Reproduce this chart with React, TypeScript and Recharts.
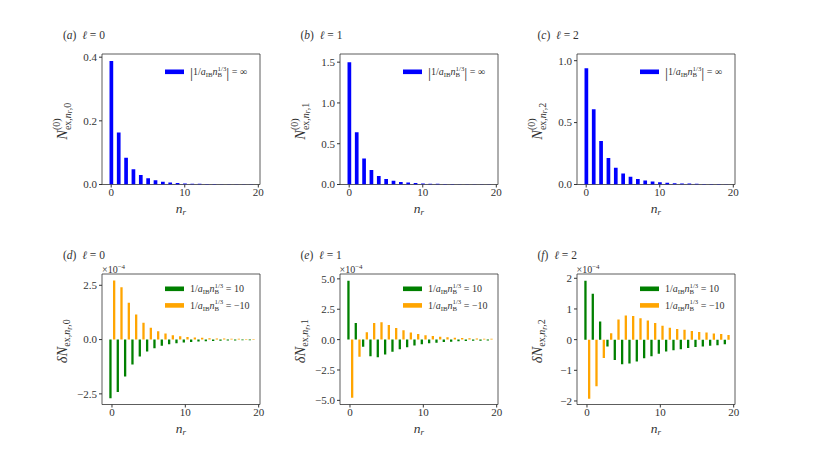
import React from "react";
import { BarChart, Bar, XAxis, YAxis, ReferenceArea, Legend } from "recharts";

// radial quantum number n_r
const nr = [0, 1, 2, 3, 4, 5, 6, 7, 8, 9, 10, 11, 12, 13, 14, 15, 16, 17, 18, 19];
const xTicks = [0, 10, 20];

// N^(0)_{ex,n_r,l} for |1/a_IB n_B^{1/3}| = inf
const nex0L0 = [0.388, 0.163, 0.084, 0.048, 0.03, 0.02, 0.013, 0.0088, 0.0062, 0.0045, 0.0034, 0.0026, 0.002, 0.0016, 0.0013, 0.001, 0.0008, 0.0007, 0.0005, 0.0004];
const nex0L1 = [1.5, 0.642, 0.319, 0.178, 0.105, 0.068, 0.046, 0.032, 0.023, 0.017, 0.013, 0.01, 0.008, 0.0065, 0.0052, 0.0042, 0.0035, 0.0029, 0.0024, 0.002];
const nex0L2 = [0.938, 0.608, 0.351, 0.214, 0.135, 0.089, 0.062, 0.044, 0.032, 0.024, 0.018, 0.014, 0.011, 0.009, 0.0072, 0.006, 0.005, 0.0042, 0.0035, 0.003];

// delta N_{ex,n_r,l} in units of 1e-4, for 1/a_IB n_B^{1/3} = 10 and = -10
const dL0Pos = [-2.7, -2.42, -1.7, -1.15, -0.78, -0.55, -0.4, -0.29, -0.21, -0.17, -0.14, -0.11, -0.09, -0.075, -0.062, -0.052, -0.044, -0.037, -0.032, -0.027];
const dL0Neg = [2.72, 2.41, 1.7, 1.15, 0.78, 0.54, 0.38, 0.28, 0.2, 0.15, 0.12, 0.1, 0.08, 0.065, 0.055, 0.046, 0.039, 0.033, 0.028, 0.024];
const dL1Pos = [4.85, 1.37, -0.58, -1.37, -1.45, -1.23, -0.99, -0.79, -0.63, -0.49, -0.38, -0.3, -0.25, -0.2, -0.17, -0.14, -0.12, -0.1, -0.09, -0.07];
const dL1Neg = [-4.79, -1.4, 0.6, 1.37, 1.42, 1.2, 0.96, 0.77, 0.58, 0.47, 0.36, 0.29, 0.24, 0.19, 0.16, 0.13, 0.11, 0.09, 0.08, 0.07];
const dL2Pos = [1.92, 1.5, 0.59, -0.22, -0.66, -0.8, -0.78, -0.71, -0.61, -0.54, -0.46, -0.39, -0.35, -0.31, -0.27, -0.24, -0.22, -0.2, -0.18, -0.15];
const dL2Neg = [-1.93, -1.52, -0.6, 0.21, 0.66, 0.79, 0.77, 0.7, 0.62, 0.54, 0.45, 0.39, 0.35, 0.32, 0.28, 0.25, 0.23, 0.2, 0.18, 0.15];

const yTicksA = [0, 0.2, 0.4];
const yTicksB = [0, 0.5, 1, 1.5];
const yTicksC = [0, 0.5, 1];
const yTicksD = [-2.5, 0, 2.5];
const yTicksE = [-5, -2.5, 0, 2.5, 5];
const yTicksF = [-2, -1, 0, 1, 2];

const INK = "#333";
const FONT = "'Liberation Serif', 'DejaVu Serif', serif";
const BLUE = "#0000ff";
const GREEN = "#008000";
const ORANGE = "#ffa500";

// plot box geometry inside each small chart
const PW = 158;
const PH = 130.5;
const ML = 62;
const MT = 40;
const CW = 240;
const CH = 212;
const YW = 40;
const XH = 24;

type Series = { key: string; name: string; color: string; values: number[] };

type Piece = { t: string; size?: number; it?: boolean; dx?: number; dy?: number };

const Tex = ({ pieces, ...rest }: { pieces: Piece[]; [k: string]: any }) => (
  <text fill={INK} fontFamily={FONT} style={{ whiteSpace: "pre" }} {...rest}>
    {pieces.map((p, i) => (
      <tspan
        key={i}
        fontSize={p.size}
        fontStyle={p.it ? "italic" : "normal"}
        dx={p.dx}
        dy={p.dy}
      >
        {p.t}
      </tspan>
    ))}
  </text>
);

const legendPieces = (v: string, abs: boolean): Piece[] => [
  ...(abs ? [{ t: "|", size: 15, dy: 2.8 }] : []),
  { t: "1/", size: 10, dy: abs ? -2.8 : 0 },
  { t: "a", size: 10, it: true },
  { t: "IB", size: 6.8, dy: 2 },
  { t: "n", size: 10, it: true, dy: -2 },
  { t: "1/3", size: 6.8, dy: -4.5 },
  { t: "B", size: 6.8, dx: -8.7, dy: 6.5 },
  ...(abs
    ? [
        { t: "|", size: 15, dx: 4.2, dy: 0.8 },
        { t: " = " + v, size: 10, dy: -2.8 },
      ]
    : [{ t: " = " + v, size: 10, dx: 4.2, dy: -2 }]),
];

const LegendBox = ({ payload, abs }: { payload?: any[]; abs: boolean }) => (
  <svg width={110} height={42}>
    {(payload || []).map((p, i) => (
      <g key={i} transform={`translate(0, ${i * 16.6})`}>
        <rect x={0} y={4.5} width={19} height={4.6} fill={p.color} />
        <Tex x={25} y={10.2} pieces={legendPieces(String(p.value), abs)} />
      </g>
    ))}
  </svg>
);

const yLabelPieces = (ell: number, delta: boolean): Piece[] =>
  delta
    ? [
        { t: "δN", size: 14.5, it: true },
        { t: "ex,", size: 10, dy: 3.5 },
        { t: "n", size: 10, it: true },
        { t: "r", size: 7.5, it: true, dy: 1.8 },
        { t: "," + ell, size: 10, dy: -1.8 },
      ]
    : [
        { t: "N", size: 14.5, it: true },
        { t: "(0)", size: 10, dy: -6.5 },
        { t: "ex,", size: 10, dx: -11.7, dy: 10.5 },
        { t: "n", size: 10, it: true },
        { t: "r", size: 7.5, it: true, dy: 1.8 },
        { t: "," + ell, size: 10, dy: -1.8 },
      ];

type PanelProps = {
  boxLeft: number;
  boxTop: number;
  tag: string;
  ell: number;
  series: Series[];
  xDomain: [number, number];
  yDomain: [number, number];
  yTicks: number[];
  digits: number;
  delta: boolean;
  barSize: number;
};

const Panel = (props: PanelProps) => {
  const { boxLeft, boxTop, tag, ell, series, xDomain, yDomain, yTicks, digits, delta, barSize } = props;
  const rows = nr.map((n, i) => {
    const row: Record<string, number> = { n };
    series.forEach((s) => (row[s.key] = s.values[i]));
    return row;
  });
  const fmt = (v: number) => v.toFixed(digits).replace("-", "\u2212");
  const tickStyle = { fill: INK, fontSize: 11, fontFamily: FONT };

  return (
    <>
      <div
        style={{
          position: "absolute",
          left: boxLeft - 39,
          top: boxTop - 26,
          fontFamily: FONT,
          fontSize: 11.5,
          lineHeight: "14px",
          color: INK,
          whiteSpace: "pre",
        }}
      >
        (<i>{tag}</i>)  <i>ℓ</i> = {ell}
      </div>
      {delta && (
        <div
          style={{
            position: "absolute",
            left: boxLeft,
            top: boxTop - 13,
            fontFamily: FONT,
            fontSize: 10,
            lineHeight: "12px",
            color: INK,
          }}
        >
          ×10<sup style={{ fontSize: 7, verticalAlign: "4px" }}>−4</sup>
        </div>
      )}
      <div style={{ position: "absolute", left: boxLeft - ML, top: boxTop - MT, width: CW, height: CH }}>
        <BarChart
          width={CW}
          height={CH}
          data={rows}
          barGap={1.4}
          margin={{ top: MT, left: ML - YW, right: CW - ML - PW, bottom: CH - MT - PH - XH }}
        >
          <XAxis
            dataKey="n"
            type="number"
            domain={xDomain}
            ticks={xTicks}
            allowDataOverflow
            height={XH}
            stroke={INK}
            axisLine={false}
            tickSize={3}
            tickMargin={1}
            tick={tickStyle}
            label={() => (
              <Tex
                x={ML + PW / 2}
                y={MT + PH + 28}
                textAnchor="middle"
                pieces={[
                  { t: "n", size: 13.5, it: true },
                  { t: "r", size: 9, it: true, dy: 2.5 },
                ]}
              />
            )}
          />
          <YAxis
            type="number"
            domain={yDomain}
            ticks={yTicks}
            allowDataOverflow
            width={YW}
            stroke={INK}
            axisLine={false}
            tickSize={3}
            tickMargin={2}
            tick={tickStyle}
            tickFormatter={fmt}
            label={() => (
              <Tex
                transform={`translate(${ML - 35.5},${MT + PH / 2 + 2}) rotate(-90)`}
                textAnchor="middle"
                pieces={yLabelPieces(ell, delta)}
              />
            )}
          />
          {series.map((s) => (
            <Bar
              key={s.key}
              dataKey={s.key}
              name={s.name}
              fill={s.color}
              barSize={barSize}
              isAnimationActive={false}
            />
          ))}
          <ReferenceArea
            x1={xDomain[0]}
            x2={xDomain[1]}
            y1={yDomain[0]}
            y2={yDomain[1]}
            fill="none"
            stroke={INK}
            strokeWidth={0.8}
            ifOverflow="visible"
          />
          <Legend
            layout="vertical"
            align="center"
            verticalAlign="middle"
            wrapperStyle={{ left: ML + 63, top: MT + (delta ? 8.5 : 11.5), width: 110, height: 42 }}
            content={(p: any) => <LegendBox payload={p.payload} abs={!delta} />}
          />
        </BarChart>
      </div>
    </>
  );
};

const TOP_X: [number, number] = [-1.25, 20.23];
const BOT_X: [number, number] = [-1.36, 20.18];
const lefts = [102, 339.5, 576.5];
const tops = [53.5, 273.5];

export default function App() {
  return (
    <div style={{ position: "absolute", left: 0, top: 0, width: 817, height: 454, background: "#fff" }}>
      <Panel boxLeft={lefts[0]} boxTop={tops[0]} tag="a" ell={0} delta={false} barSize={3.7}
        series={[{ key: "inf", name: "∞", color: BLUE, values: nex0L0 }]}
        xDomain={TOP_X} yDomain={[0, 0.41]} yTicks={yTicksA} digits={1} />
      <Panel boxLeft={lefts[1]} boxTop={tops[0]} tag="b" ell={1} delta={false} barSize={3.7}
        series={[{ key: "inf", name: "∞", color: BLUE, values: nex0L1 }]}
        xDomain={TOP_X} yDomain={[0, 1.6]} yTicks={yTicksB} digits={1} />
      <Panel boxLeft={lefts[2]} boxTop={tops[0]} tag="c" ell={2} delta={false} barSize={3.7}
        series={[{ key: "inf", name: "∞", color: BLUE, values: nex0L2 }]}
        xDomain={TOP_X} yDomain={[0, 1.054]} yTicks={yTicksC} digits={1} />
      <Panel boxLeft={lefts[0]} boxTop={tops[1]} tag="d" ell={0} delta barSize={2.3}
        series={[
          { key: "pos", name: "10", color: GREEN, values: dL0Pos },
          { key: "neg", name: "\u221210", color: ORANGE, values: dL0Neg },
        ]}
        xDomain={BOT_X} yDomain={[-2.99, 3.02]} yTicks={yTicksD} digits={1} />
      <Panel boxLeft={lefts[1]} boxTop={tops[1]} tag="e" ell={1} delta barSize={2.3}
        series={[
          { key: "pos", name: "10", color: GREEN, values: dL1Pos },
          { key: "neg", name: "\u221210", color: ORANGE, values: dL1Neg },
        ]}
        xDomain={BOT_X} yDomain={[-5.34, 5.4]} yTicks={yTicksE} digits={1} />
      <Panel boxLeft={lefts[2]} boxTop={tops[1]} tag="f" ell={2} delta barSize={2.3}
        series={[
          { key: "pos", name: "10", color: GREEN, values: dL2Pos },
          { key: "neg", name: "\u221210", color: ORANGE, values: dL2Neg },
        ]}
        xDomain={BOT_X} yDomain={[-2.115, 2.14]} yTicks={yTicksF} digits={0} />
    </div>
  );
}
